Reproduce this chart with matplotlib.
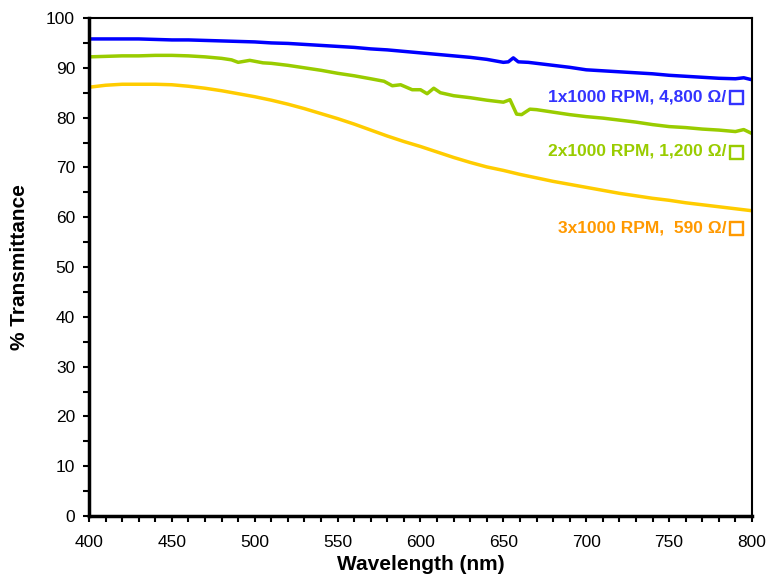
import matplotlib

matplotlib.use("Agg")
import matplotlib.pyplot as plt
import matplotlib.patheffects as pe
from matplotlib.ticker import MultipleLocator

plt.rcParams["font.family"] = ["Liberation Sans", "DejaVu Sans"]

# wavelength (nm) and % transmittance for each spin-coating condition
wl_1x = [400, 410, 420, 430, 440, 450, 460, 470, 480, 490, 500, 510, 520, 530,
         540, 550, 560, 570, 580, 590, 600, 610, 620, 630, 640, 650, 653, 656,
         659, 665, 670, 680, 690, 700, 710, 720, 730, 740, 750, 760, 770, 780,
         790, 795, 800]
t_1x = [95.8, 95.8, 95.8, 95.8, 95.7, 95.6, 95.6, 95.5, 95.4, 95.3, 95.2, 95.0,
        94.9, 94.7, 94.5, 94.3, 94.1, 93.8, 93.6, 93.3, 93.0, 92.7, 92.4, 92.1,
        91.7, 91.1, 91.2, 92.0, 91.2, 91.1, 90.9, 90.5, 90.1, 89.6, 89.4, 89.2,
        89.0, 88.8, 88.5, 88.3, 88.1, 87.9, 87.8, 88.0, 87.6]

wl_2x = [400, 410, 420, 430, 440, 450, 460, 470, 480, 486, 490, 497, 505, 510,
         520, 530, 540, 550, 560, 570, 578, 583, 588, 595, 600, 604, 608, 612,
         620, 630, 640, 650, 654, 658, 661, 666, 670, 680, 690, 700, 710, 720,
         730, 740, 750, 760, 770, 780, 790, 795, 800]
t_2x = [92.2, 92.3, 92.4, 92.4, 92.5, 92.5, 92.4, 92.2, 91.9, 91.6, 91.1, 91.5,
        91.0, 90.9, 90.5, 90.0, 89.5, 88.9, 88.4, 87.8, 87.3, 86.4, 86.6, 85.6,
        85.6, 84.8, 85.9, 85.0, 84.4, 84.0, 83.5, 83.1, 83.6, 80.7, 80.6, 81.7,
        81.6, 81.1, 80.6, 80.2, 79.9, 79.5, 79.1, 78.6, 78.2, 78.0, 77.7, 77.5,
        77.2, 77.6, 76.8]

wl_3x = [400, 410, 420, 430, 440, 450, 460, 470, 480, 490, 500, 510, 520, 530,
         540, 550, 560, 570, 580, 590, 600, 610, 620, 630, 640, 650, 660, 670,
         680, 690, 700, 710, 720, 730, 740, 750, 760, 770, 780, 790, 800]
t_3x = [86.1, 86.5, 86.7, 86.7, 86.7, 86.6, 86.3, 85.9, 85.4, 84.8, 84.2, 83.5,
        82.7, 81.8, 80.8, 79.8, 78.7, 77.5, 76.3, 75.2, 74.2, 73.1, 72.0, 71.0,
        70.1, 69.4, 68.6, 67.9, 67.2, 66.6, 66.0, 65.4, 64.8, 64.3, 63.8, 63.4,
        62.9, 62.5, 62.1, 61.7, 61.3]

labels = ["1x1000 RPM, 4,800 \u03a9/",
          "2x1000 RPM, 1,200 \u03a9/",
          "3x1000 RPM,  590 \u03a9/"]
label_y = [84.2, 73.2, 57.9]

fig = plt.figure(figsize=(7.7, 5.85), dpi=100)
ax = fig.add_axes([0.1156, 0.1179, 0.861, 0.8513])

ax.plot(wl_1x, t_1x, color="#0000FF", linewidth=2.5)
ax.plot(wl_2x, t_2x, color="#99CC00", linewidth=2.5)
ax.plot(wl_3x, t_3x, color="#FFCC00", linewidth=2.5)

# curve labels, with the ohm-per-square box drawn separately so it can be bolder
text_colors = ["#3333FF", "#99CC00", "#FF9900"]
for lab, y, c in zip(labels, label_y, text_colors):
    ax.annotate("\u25a1", xy=(800, y), xytext=(-5.5, 0), textcoords="offset points",
                color=c, fontsize=13, family="DejaVu Sans",
                ha="right", va="center",
                path_effects=[pe.withStroke(linewidth=1.0, foreground=c)])
    ax.annotate(lab, xy=(800, y), xytext=(-18.5, 0), textcoords="offset points",
                color=c, fontsize=12.5, fontweight="bold", ha="right", va="center")

ax.set_xlim(400, 800)
ax.set_ylim(0, 100)
ax.xaxis.set_major_locator(MultipleLocator(50))
ax.xaxis.set_minor_locator(MultipleLocator(10))
ax.yaxis.set_major_locator(MultipleLocator(10))
ax.yaxis.set_minor_locator(MultipleLocator(5))
ax.tick_params(which="both", direction="out", width=1.5, labelsize=12.5)
ax.tick_params(which="major", length=4)
ax.tick_params(which="minor", length=4)
ax.tick_params(axis="x", pad=10)
ax.tick_params(axis="y", pad=6)
for s in ax.spines.values():
    s.set_linewidth(1.5)
ax.spines["left"].set_linewidth(2.5)
ax.spines["bottom"].set_linewidth(2.5)

ax.set_xlabel("Wavelength (nm)", fontsize=15, fontweight="bold", labelpad=3)
ax.set_ylabel("% Transmittance", fontsize=15, fontweight="bold", labelpad=12)

fig.savefig("out.png", dpi=100)
